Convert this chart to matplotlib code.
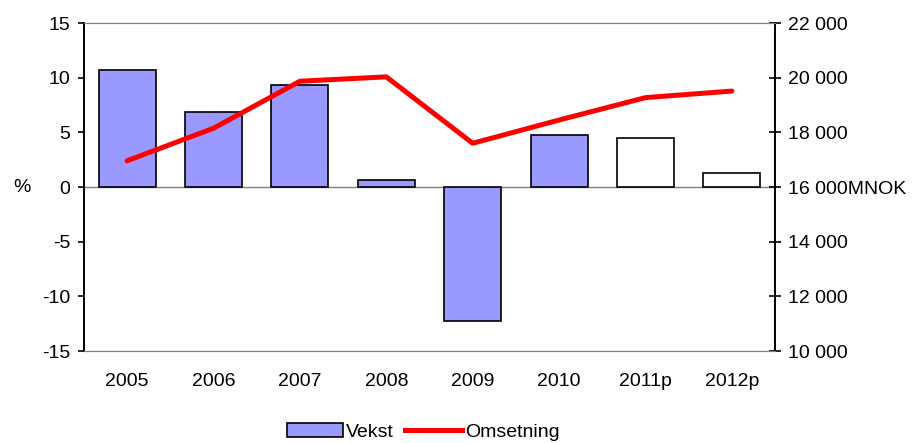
import numpy as np
import matplotlib.pyplot as plt
from matplotlib.ticker import FuncFormatter

plt.rcParams['font.family'] = ['Liberation Sans', 'DejaVu Sans']
plt.rcParams['font.size'] = 14
plt.rcParams['axes.unicode_minus'] = False

# data
years = ['2005', '2006', '2007', '2008', '2009', '2010', '2011p', '2012p']
vekst = [10.67, 6.89, 9.33, 0.67, -12.3, 4.79, 4.45, 1.31]
omsetning = [16960, 18150, 19870, 20030, 17600, 18450, 19270, 19510]
prognose = [False, False, False, False, False, False, True, True]


def mnok_fmt(v, p):
    s = f'{int(v):,}'.replace(',', ' ')
    # unit label sits right after the 16 000 tick
    return s + 'MNOK' if int(v) == 16000 else s


fig = plt.figure(figsize=(9.24, 4.43), dpi=100)
ax = fig.add_axes([84 / 924, 1 - 351 / 443, 691 / 924, 328 / 443])
ax2 = ax.twinx()

x = np.arange(len(years))
colors = ['white' if p else '#9999FF' for p in prognose]
ax.bar(x, vekst, width=0.66, color=colors, edgecolor='black', linewidth=1.2, zorder=2)
ax.axhline(0, color='#808080', linewidth=1, zorder=1)

ax.set_xlim(-0.5, len(years) - 0.5)
ax.set_ylim(-15, 15)
ax.set_yticks(range(-15, 16, 5))
ax.set_xticks(x)
ax.set_xticklabels(years)
ax.tick_params(axis='x', length=0, pad=16)
ax.tick_params(axis='y', direction='out', length=4.3, width=1.2, pad=5.5)

ax2.plot(x, omsetning, color='#FF0000', linewidth=3.6, solid_capstyle='round', zorder=3)
ax2.set_ylim(10000, 22000)
ax2.set_yticks(range(10000, 22001, 2000))
ax2.yaxis.set_major_formatter(FuncFormatter(mnok_fmt))
ax2.tick_params(axis='y', direction='inout', length=8.6, width=1.2, pad=5)

for a in (ax, ax2):
    a.spines['top'].set_color('#808080')
    a.spines['bottom'].set_color('#808080')
    a.spines['left'].set_linewidth(1.2)
    a.spines['right'].set_linewidth(1.2)

fig.text(22 / 924, 1 - 187 / 443, '%', ha='center', va='center', fontsize=14)

# legend
handles = [plt.Rectangle((0, 0), 1, 1, facecolor='#9999FF', edgecolor='black', linewidth=1.2),
           plt.Line2D([0], [0], color='#FF0000', linewidth=3.6)]
fig.legend(handles, ['Vekst', 'Omsetning'], loc='center', bbox_to_anchor=(423 / 924, 1 - 432 / 443),
           ncol=2, frameon=False, handlelength=2.9, handletextpad=0.15, columnspacing=0.6,
           fontsize=14)

fig.savefig('out.png', dpi=100)
